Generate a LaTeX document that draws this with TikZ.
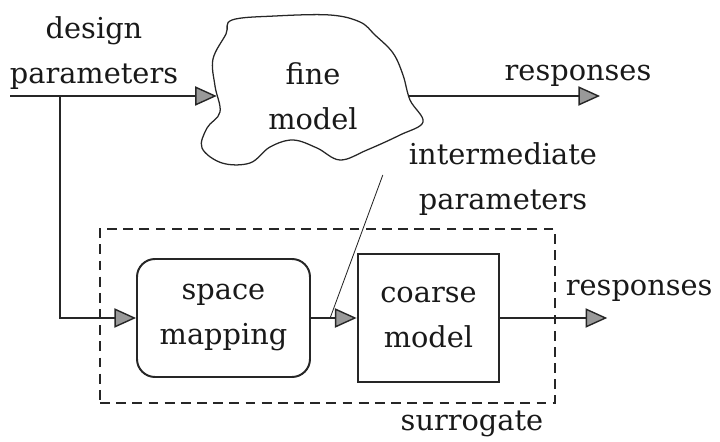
\documentclass[tikz,border=0pt]{standalone}
\usepackage{fontspec}
\setmainfont{DejaVu Serif}
\usetikzlibrary{arrows.meta}

\tikzset{
	flow/.style={draw=black!85, line width=1pt, -{Triangle[length=5.4mm, width=4.8mm, fill=black!40]}},
	block/.style={draw=black!85, align=center, inner sep=0pt},
}

\begin{document}
\begin{tikzpicture}[every node/.style={font=\fontsize{20.5}{32}\selectfont, text=black!90}]
	\useasboundingbox (0,0) rectangle (18,11.05);
	% fine model (cloud)
	\draw[black!85, line width=0.9pt] plot[smooth cycle, tension=0.6] coordinates {(5.8,10.55) (6.875,10.65) (8.25,10.675) (9.0,10.5) (9.375,10.175) (9.825,9.725) (10.075,9.175) (10.25,8.55) (10.575,8.0) (10.0,7.675) (9.175,7.3) (8.5,7.05) (7.925,7.35) (7.325,7.55) (6.75,7.375) (6.25,6.975) (5.55,6.975) (5.05,7.35) (5.175,7.85) (5.5,8.25) (5.375,8.9) (5.325,9.575) (5.65,10.2)};
	\node[align=center, inner sep=0pt, minimum width=4.8cm] (fine) at (7.825,8.65) {fine\\model};
	% surrogate
	\node[draw=black!85, dash pattern=on 7pt off 4.5pt, line width=0.9pt, minimum width=11.375cm, minimum height=4.35cm] (surr) at (8.1875,3.15) {};
	\node[block, rounded corners=0.45cm, line width=1.4pt, minimum width=4.325cm, minimum height=2.95cm] (map) at (5.5875,3.1) {space\\mapping};
	\node[block, line width=2pt, minimum width=3.525cm, minimum height=3.2cm] (coarse) at (10.7125,3.1) {coarse\\model};
	% labels
	\node[align=center] (design) at (2.35,9.725) {design\\parameters};
	\node (resp1) at (14.45,9.15) {responses};
	\node[align=center] (inter) at (12.575,6.575) {intermediate\\parameters};
	\node (resp2) at (15.98,3.775) {responses};
	\node (surrlabel) at (11.8,0.45) {surrogate};
	% connectors
	\coordinate (dpin) at (0.25,8.65);
	\coordinate (split) at (1.5,8.65);
	\coordinate (out1) at (15.0,8.65);
	\coordinate (out2) at (15.18,3.1);
	\draw[flow] (dpin) -- (fine.west);
	\draw[flow] (split) |- (map.west);
	\draw[flow] (fine.east) -- (out1);
	\draw[flow] (map) -- coordinate[pos=0.42] (tap) (coarse);
	\draw[flow] (coarse) -- (out2);
	\draw[black!85, line width=0.6pt] ([xshift=-0.53cm, yshift=0.1cm]inter.west) -- (tap);
\end{tikzpicture}
\end{document}
